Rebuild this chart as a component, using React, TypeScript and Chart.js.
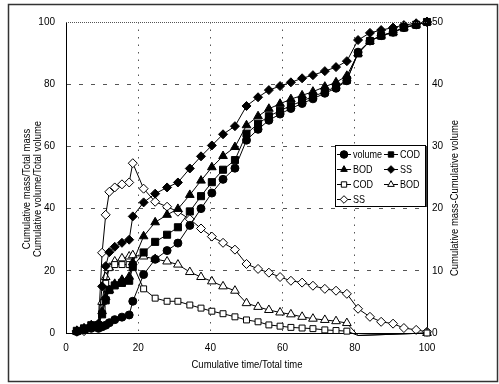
import React, { useEffect, useRef } from 'react';
import { Chart, registerables } from 'chart.js';

Chart.register(...registerables);

const FONT = "'Liberation Sans Narrow','Arial Narrow','Liberation Sans',Arial,sans-serif";

const times = [3, 5, 7, 9, 10, 11, 12, 13.5, 15.5, 17.5, 18.5, 21.5, 24.7, 28, 31, 34.3, 37.4, 40.4, 43.5, 46.8, 50, 53.2, 56.2, 59.3, 62.3, 65.4, 68.4, 71.7, 74.8, 77.8, 80.9, 84.2, 87.3, 90.6, 93.6, 97, 100];

const volume = [0.5, 1, 1.5, 1.5, 2, 2.5, 3.3, 4.3, 5.1, 5.8, 10.2, 18.8, 23.7, 26.5, 28.9, 34.6, 40, 45, 49.4, 53, 62, 65.5, 68.4, 70.4, 72.2, 73.8, 75.3, 77.1, 78.7, 81.1, 90.3, 93.9, 95.6, 96.7, 98.2, 99.1, 100];
const codCum = [0.7, 1.5, 2.5, 2.5, 6, 10.5, 13.8, 15.3, 16.1, 16.8, 21.2, 25.9, 29.3, 31.6, 34, 39.1, 44, 48.5, 52.5, 55.6, 64.1, 67.3, 69.7, 71.5, 73.1, 74.6, 76, 77.6, 79.1, 81.4, 89.9, 93.9, 95.6, 96.7, 98.2, 99.1, 100];
const bodCum = [0.7, 1.5, 2.5, 2.5, 7, 11.5, 13.8, 15.8, 17.1, 18.1, 22.7, 31.1, 35.6, 38, 39.9, 44.4, 49, 53.3, 56.9, 59.8, 66.8, 69.7, 72.1, 73.7, 75.2, 76.4, 77.6, 79.2, 80.6, 82.7, 89.9, 93.9, 95.6, 96.7, 98.2, 99.1, 100];
const ssCum = [0.7, 1.3, 2.5, 3, 15, 21.5, 26, 27.7, 29, 30, 37.5, 42, 44.8, 46.8, 48.4, 52.9, 56.8, 60.3, 63.9, 66.5, 73, 75.8, 78.1, 79.4, 80.6, 81.9, 82.9, 84.2, 85.5, 87.4, 94.2, 96.5, 97.4, 98.2, 99, 99.6, 100];

const codDiff = [0.2, 0.5, 1, 1, 4, 8, 10.5, 11, 11, 11, 11, 7.1, 5.6, 5.1, 5.1, 4.5, 4, 3.5, 3.1, 2.6, 2.1, 1.8, 1.3, 1.1, 0.9, 0.8, 0.7, 0.5, 0.4, 0.3, -0.4, null, null, null, null, null, 0];
const bodDiff = [0.2, 0.5, 1, 1, 5, 9, 10.5, 11.5, 12, 12.3, 12.5, 12.3, 11.9, 11.5, 11, 9.8, 9, 8.3, 7.5, 6.8, 4.8, 4.2, 3.7, 3.3, 3, 2.6, 2.3, 2.1, 1.9, 1.6, -0.4, null, null, null, null, null, 0];
const ssDiff = [0.2, 0.3, 1, 1.5, 12.9, 19, 22.7, 23.4, 23.9, 24.2, 27.3, 23.2, 21.1, 20.3, 19.5, 18.3, 16.8, 15.5, 14.5, 13.4, 11.1, 10.3, 9.7, 9, 8.4, 8.1, 7.6, 7.1, 6.8, 6.3, 3.9, 2.6, 1.8, 1.5, 0.8, 0.5, 0.2];

const xTicks = [0, 20, 40, 60, 80, 100];
const yLeftTicks = [0, 20, 40, 60, 80, 100];
const yRightTicks = [0, 10, 20, 30, 40, 50];

const xTitle = 'Cumulative time/Total time';
const yTitle1 = 'Cumulative mass/Total mass';
const yTitle2 = 'Cumulative volume/Total volume';
const y2Title = 'Cumulative mass-Cumulative volume';

type Sty = { label: string; data: (number | null)[]; axis: string; style: string; fill: boolean; r: number };
const seriesDefs: Sty[] = [
  { label: 'volume', data: volume, axis: 'y', style: 'circle', fill: true, r: 4 },
  { label: 'COD', data: codCum, axis: 'y', style: 'rect', fill: true, r: 5 },
  { label: 'BOD', data: bodCum, axis: 'y', style: 'triangle', fill: true, r: 5 },
  { label: 'SS', data: ssCum, axis: 'y', style: 'rectRot', fill: true, r: 4.5 },
  { label: 'COD', data: codDiff, axis: 'y2', style: 'rect', fill: false, r: 4.2 },
  { label: 'BOD', data: bodDiff, axis: 'y2', style: 'triangle', fill: false, r: 5 },
  { label: 'SS', data: ssDiff, axis: 'y2', style: 'rectRot', fill: false, r: 4.5 },
];

function drawMarker(ctx: CanvasRenderingContext2D, style: string, fill: boolean, x: number, y: number, r: number) {
  ctx.beginPath();
  if (style === 'circle') {
    ctx.arc(x, y, r, 0, Math.PI * 2);
  } else if (style === 'rect') {
    const s = r * Math.SQRT1_2;
    ctx.rect(x - s, y - s, 2 * s, 2 * s);
  } else if (style === 'triangle') {
    const a = (Math.PI * 2) / 3;
    ctx.moveTo(x, y - r);
    ctx.lineTo(x + Math.sin(a) * r, y - Math.cos(a) * r);
    ctx.lineTo(x - Math.sin(a) * r, y - Math.cos(a) * r);
    ctx.closePath();
  } else {
    ctx.moveTo(x, y - r);
    ctx.lineTo(x + r, y);
    ctx.lineTo(x, y + r);
    ctx.lineTo(x - r, y);
    ctx.closePath();
  }
  ctx.fillStyle = fill ? '#000' : '#fff';
  ctx.fill();
  ctx.strokeStyle = '#000';
  ctx.lineWidth = 1;
  ctx.stroke();
}

const NARROW = 0.86;

function narrowText(ctx: CanvasRenderingContext2D, t: string, x: number, y: number, rotate: boolean, align: CanvasTextAlign) {
  ctx.save();
  ctx.translate(x, y);
  if (rotate) ctx.rotate(-Math.PI / 2);
  ctx.scale(NARROW, 1);
  ctx.textAlign = align;
  ctx.textBaseline = 'middle';
  ctx.fillText(t, 0, 0);
  ctx.restore();
}

const decorPlugin = {
  id: 'decor',
  beforeDraw(chart: any) {
    const ctx: CanvasRenderingContext2D = chart.ctx;
    ctx.save();
    ctx.fillStyle = '#fff';
    ctx.fillRect(0, 0, chart.width, chart.height);
    ctx.strokeStyle = '#333';
    ctx.lineWidth = 1.5;
    ctx.strokeRect(8.5, 4.5, 489, 377);
    ctx.restore();
  },
  afterDraw(chart: any) {
    const ctx: CanvasRenderingContext2D = chart.ctx;
    const a = chart.chartArea;
    ctx.save();
    // top border dotted
    ctx.strokeStyle = '#555';
    ctx.lineWidth = 1;
    ctx.setLineDash([1, 1]);
    ctx.beginPath();
    ctx.moveTo(a.left, a.top + 0.5);
    ctx.lineTo(a.right, a.top + 0.5);
    ctx.stroke();
    ctx.setLineDash([]);

    // titles
    ctx.fillStyle = '#000';
    ctx.font = `11px ${FONT}`;
    narrowText(ctx, xTitle, 247, 365, false, 'center');
    narrowText(ctx, yTitle1, 27, 189, true, 'center');
    narrowText(ctx, yTitle2, 38, 189, true, 'center');
    narrowText(ctx, y2Title, 455, 198, true, 'center');

    // legend
    const lx = 335, ly = 145, lw = 90, lh = 61;
    ctx.fillStyle = '#fff';
    ctx.fillRect(lx, ly, lw, lh);
    ctx.strokeStyle = '#000';
    ctx.lineWidth = 1;
    ctx.strokeRect(lx + 0.5, ly + 0.5, lw, lh);
    ctx.lineWidth = 1.5;
    ctx.beginPath();
    ctx.moveTo(lx + lw + 1, ly + 1);
    ctx.lineTo(lx + lw + 1, ly + lh + 1);
    ctx.stroke();
    const rows = [154, 169, 184, 199];
    const cols = [337, 384];
    ctx.font = `10.5px ${FONT}`;
    seriesDefs.forEach((s, i) => {
      const row = Math.floor(i / 2);
      const col = i % 2;
      const x0 = cols[col];
      const y0 = rows[row] + 0.5;
      ctx.strokeStyle = '#000';
      ctx.lineWidth = 1;
      ctx.beginPath();
      ctx.moveTo(x0, y0);
      ctx.lineTo(x0 + 14, y0);
      ctx.stroke();
      drawMarker(ctx, s.style, s.fill, x0 + 7, y0, Math.min(s.r, 3.8));
      ctx.fillStyle = '#000';
      narrowText(ctx, s.label, x0 + 16, y0 + 0.5, false, 'left');
    });
    ctx.restore();
  },
};

export default function App() {
  const ref = useRef<HTMLCanvasElement | null>(null);
  useEffect(() => {
    document.body.style.margin = '0';
    const canvas = ref.current!;
    const gridColor = (c: any) => {
      const v = c.tick ? c.tick.value : 0;
      return v === 0 || v === 100 ? 'rgba(0,0,0,0)' : '#555';
    };
    const datasets = seriesDefs.map((s) => ({
      label: s.label,
      data: times.map((t, i) => ({ x: t, y: s.data[i] })),
      yAxisID: s.axis,
      borderColor: '#000',
      borderWidth: 1,
      backgroundColor: s.fill ? '#000' : '#fff',
      pointStyle: s.style,
      pointRadius: (c: any) => (c.raw && c.raw.y !== null && c.raw.y < 0 ? 0 : s.r),
      pointBorderColor: '#000',
      pointBackgroundColor: s.fill ? '#000' : '#fff',
      pointBorderWidth: 1,
      spanGaps: true,
      clip: false as any,
      tension: 0,
    }));
    const tickFont = { family: FONT, size: 10 };
    const chart = new Chart(canvas, {
      type: 'line',
      data: { datasets },
      options: {
        animation: false,
        responsive: false,
        devicePixelRatio: 1,
        layout: { padding: { top: 22, left: 0, right: 0, bottom: 0 } },
        plugins: { legend: { display: false }, tooltip: { enabled: false } },
        scales: {
          x: {
            type: 'linear',
            min: 0,
            max: 100,
            afterBuildTicks: (s: any) => { s.ticks = xTicks.map((v) => ({ value: v })); },
            afterFit: (s: any) => { s.height = 51; },
            border: { display: true, color: '#000', width: 1, dash: [1.5, 6] },
            grid: { color: gridColor, lineWidth: 1, drawTicks: false },
            ticks: { color: '#000', padding: 9, font: tickFont },
          },
          y: {
            type: 'linear',
            position: 'left',
            min: 0,
            max: 100,
            afterBuildTicks: (s: any) => { s.ticks = yLeftTicks.map((v) => ({ value: v })); },
            afterFit: (s: any) => { s.width = 66; },
            border: { display: true, color: '#000', width: 1, dash: [4, 8] },
            grid: { color: gridColor, lineWidth: 1, drawTicks: false },
            ticks: { color: '#000', padding: 11, font: tickFont },
          },
          y2: {
            type: 'linear',
            position: 'right',
            min: 0,
            max: 50,
            afterBuildTicks: (s: any) => { s.ticks = yRightTicks.map((v) => ({ value: v })); },
            afterFit: (s: any) => { s.width = 72; },
            border: { display: true, color: '#000', width: 1 },
            grid: { display: false, drawTicks: false },
            ticks: { color: '#000', padding: 5, font: tickFont },
          },
        },
      },
      plugins: [decorPlugin],
    } as any);
    return () => chart.destroy();
  }, []);
  return (
    <div style={{ width: 499, height: 384, position: 'relative' }}>
      <canvas ref={ref} width={499} height={384} style={{ width: 499, height: 384, display: 'block' }} />
    </div>
  );
}
